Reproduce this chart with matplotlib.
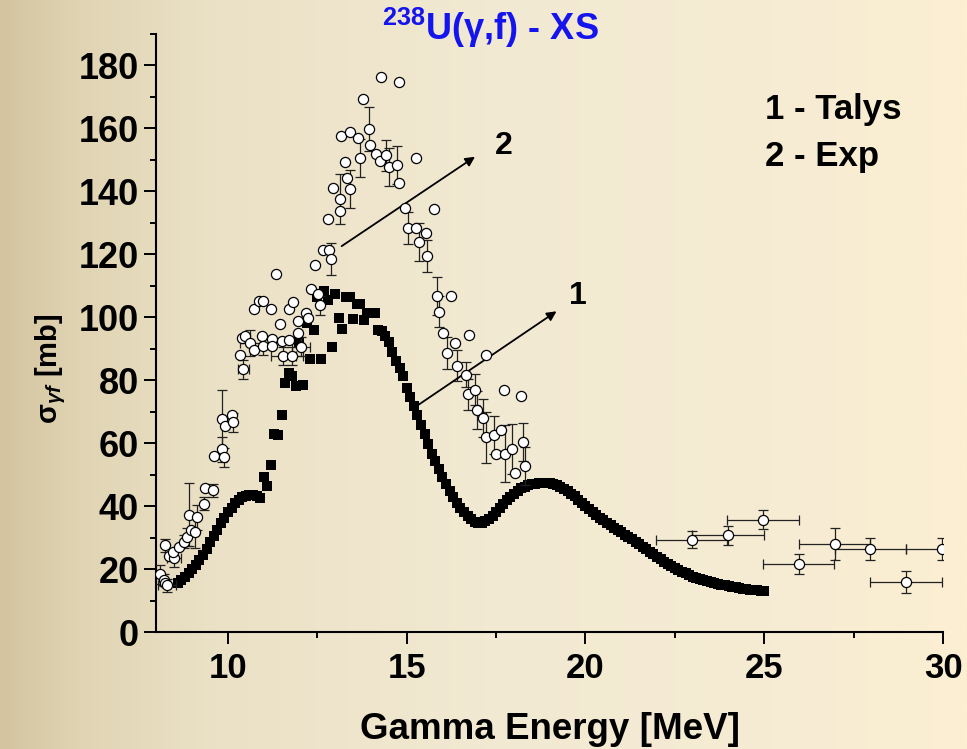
import numpy as np
import matplotlib
matplotlib.use("Agg")
import matplotlib.pyplot as plt
from matplotlib.colors import LinearSegmentedColormap
from matplotlib.ticker import MultipleLocator

plt.rcParams["font.family"] = ["Liberation Sans", "DejaVu Sans"]
plt.rcParams["font.weight"] = "bold"
plt.rcParams["mathtext.fontset"] = "custom"
plt.rcParams["mathtext.rm"] = "Liberation Sans:bold"
plt.rcParams["mathtext.bf"] = "Liberation Sans:bold"
plt.rcParams["mathtext.it"] = "Liberation Sans:bold:italic"

# Talys calculation, 0.1 MeV grid from 8.6 to 25.0 MeV
talys_e = np.arange(86, 251) / 10.0
talys_xs = [
    15.5, 16.5, 17.5, 18.8, 20.0, 21.3, 22.8, 24.5, 26.5, 28.5,
    30.5, 32.5, 34.5, 36.3, 38.0, 39.5, 41.0, 42.0, 42.8, 43.3,
    43.5, 43.5, 43.2, 42.5, 49.2, 46.5, 53.0, 63.0, 62.5, 69.0,
    79.2, 82.3, 81.2, 78.3, 92.0, 78.4, 98.2, 86.8, 95.8, 106.5,
    86.8, 108.5, 105.4, 90.6, 107.3, 99.8, 96.2, 106.5, 106.4, 99.4,
    104.3, 104.3, 99.2, 101.5, 101.5, 101.4, 95.8, 95.5, 94.2, 92.0,
    89.0, 86.2, 84.0, 81.3, 77.5, 74.6, 71.8, 68.8, 65.8, 62.8,
    59.6, 56.6, 54.3, 51.7, 49.2, 46.9, 44.7, 42.8, 41.0, 39.4,
    38.0, 36.8, 35.8, 35.1, 34.7, 34.7, 35.2, 36.0, 37.0, 38.1,
    39.3, 40.6, 41.9, 43.0, 44.0, 44.9, 45.6, 46.2, 46.6, 46.9,
    47.1, 47.2, 47.3, 47.3, 47.2, 47.0, 46.6, 46.1, 45.5, 44.8,
    44.0, 43.1, 42.1, 41.1, 40.0, 39.1, 38.2, 37.2, 36.3, 35.5,
    34.7, 34.0, 33.2, 32.4, 31.7, 30.9, 30.2, 29.5, 28.7, 27.9,
    27.1, 26.3, 25.5, 24.7, 23.9, 23.2, 22.4, 21.7, 21.0, 20.4,
    19.7, 19.1, 18.6, 18.1, 17.6, 17.2, 16.8, 16.5, 16.2, 15.9,
    15.6, 15.3, 15.0, 14.8, 14.6, 14.4, 14.2, 14.0, 13.8, 13.6,
    13.5, 13.3, 13.2, 13.1, 13.0,
]

# experimental points (energy, xs, yerr, xerr)
exp_e = [8.10, 8.20, 8.25, 8.30, 8.23, 8.36, 8.50, 8.45, 8.62, 8.78,
         8.86, 8.92, 8.98, 9.07, 9.12, 9.32, 9.36, 9.58, 9.60, 9.84,
         9.88, 9.84, 9.93, 10.10, 10.13, 10.34, 10.38, 10.43, 10.48, 10.63,
         10.72, 10.86, 10.97, 10.72, 10.95, 10.98, 11.22, 11.24, 11.20, 11.33,
         11.45, 11.50, 11.54, 11.72, 11.70, 11.83, 11.79, 11.97, 11.95, 12.05,
         12.19, 12.24, 12.32, 12.44, 12.53, 12.58, 12.79, 12.67, 12.82, 12.87,
         12.93, 13.12, 13.13, 13.17, 13.27, 13.34, 13.42, 13.40, 13.65, 13.70,
         13.79, 13.94, 13.96, 14.13, 14.25, 14.29, 14.42, 14.51, 14.73, 14.77,
         14.78, 14.94, 15.03, 15.25, 15.25, 15.34, 15.54, 15.58, 15.75, 15.85,
         15.89, 16.02, 16.14, 16.23, 16.35, 16.40, 16.66, 16.71, 16.75, 16.92,
         16.97, 17.14, 17.23, 17.21, 17.44, 17.49, 17.64, 17.73, 17.75, 17.95,
         18.04, 18.21, 18.26, 18.30]
exp_xs = [18.3, 16.5, 15.5, 14.8, 27.5, 24.2, 23.5, 25.5, 26.9, 28.7,
          30.2, 37.3, 32.4, 31.8, 36.5, 40.8, 45.8, 45.0, 56.0, 58.0,
          55.5, 67.8, 65.5, 68.9, 66.6, 88.0, 93.4, 83.5, 94.0, 91.8,
          102.5, 105.3, 105.3, 89.6, 94.2, 91.0, 93.1, 90.8, 102.5, 113.6,
          98.0, 92.4, 87.7, 92.7, 102.5, 104.8, 87.7, 94.9, 98.7, 90.7,
          101.3, 99.8, 108.9, 116.5, 107.4, 103.8, 131.1, 121.5, 121.5, 118.5,
          141.0, 133.7, 137.5, 157.5, 149.2, 144.3, 140.8, 159.0, 156.9, 150.7,
          169.4, 159.8, 154.6, 151.9, 149.6, 176.2, 151.4, 147.7, 148.4, 142.8,
          174.7, 134.7, 128.4, 128.4, 150.7, 123.8, 126.8, 119.5, 134.4, 106.8,
          101.8, 94.9, 88.6, 106.8, 91.9, 84.6, 81.7, 75.5, 94.5, 77.0,
          70.6, 67.9, 88.1, 61.8, 62.7, 56.7, 64.3, 77.0, 56.7, 58.2,
          50.6, 74.9, 60.3, 52.7]
exp_yerr = [3, 2, 0, 2, 2, 0, 3, 0, 0, 2,
            3, 10, 0, 5, 4, 2, 0, 2, 0, 4,
            3, 9, 0, 0, 3, 0, 0, 3, 0, 4,
            0, 0, 0, 0, 0, 3, 0, 0, 0, 0,
            0, 0, 3, 0, 0, 0, 3, 0, 0, 3,
            0, 0, 0, 0, 0, 3, 0, 0, 0, 5,
            0, 0, 8, 0, 0, 0, 6, 0, 0, 6,
            0, 7, 0, 0, 0, 0, 5, 6, 6, 0,
            0, 0, 5, 0, 0, 6, 0, 5, 0, 6,
            5, 0, 5, 0, 0, 5, 4, 5, 0, 5,
            6, 6, 0, 8, 6, 0, 0, 0, 9, 8,
            0, 0, 6, 6]
exp_xerr = [0, 0, 0, 0.25, 0, 0, 0.2, 0, 0, 0,
            0, 0, 0, 0, 0, 0, 0, 0, 0, 0,
            0, 0, 0, 0, 0, 0, 0, 0.15, 0, 0.3,
            0, 0, 0, 0, 0, 0.3, 0, 0, 0, 0,
            0, 0, 0.35, 0, 0, 0, 0.3, 0, 0, 0.25,
            0, 0, 0, 0, 0, 0, 0, 0, 0, 0,
            0, 0, 0, 0, 0, 0, 0, 0, 0, 0,
            0, 0, 0, 0, 0, 0, 0, 0, 0, 0,
            0, 0, 0, 0, 0, 0, 0, 0, 0, 0,
            0, 0, 0, 0, 0, 0, 0, 0, 0, 0,
            0, 0, 0, 0, 0, 0, 0, 0, 0, 0,
            0, 0, 0, 0]

# high energy points with 1 MeV bins
hi_e = [22.97, 23.98, 24.97, 25.96, 26.97, 27.97, 28.97, 29.97]
hi_xs = [29.3, 30.7, 35.7, 21.6, 27.9, 26.3, 16.0, 26.3]
hi_yerr = [2.7, 3.0, 3.0, 3.3, 5.0, 3.5, 3.5, 3.5]
hi_xerr = [1.0, 1.0, 1.0, 1.0, 1.0, 1.0, 1.0, 1.0]

fig = plt.figure(figsize=(9.67, 7.49), dpi=100)

# background gradient, dark tan on the left to cream on the right
bg = fig.add_axes([0, 0, 1, 1], zorder=-10)
cmap = LinearSegmentedColormap.from_list("bg", [
    (0.0, "#d4c5a0"), (0.08, "#e0d4b3"), (0.22, "#ebe1c6"),
    (0.5, "#f2e9d2"), (0.8, "#f6ecd4"), (1.0, "#fcefd2")])
bg.imshow(np.linspace(0, 1, 400)[None, :], aspect="auto", cmap=cmap,
          extent=(0, 1, 0, 1))
bg.set_axis_off()

ax = fig.add_axes([0.1618, 0.1562, 0.8134, 0.7984])
ax.patch.set_alpha(0)

ax.plot(talys_e, talys_xs, ls="none", marker="s", ms=6.8, color="black",
        mec="black", mew=0, zorder=2)

e = np.array(exp_e)
s = np.array(exp_xs)
ye = np.array(exp_yerr, dtype=float)
xe = np.array(exp_xerr, dtype=float)
m = (ye > 0) | (xe > 0)
ax.errorbar(e[m], s[m], yerr=ye[m], xerr=xe[m], fmt="none", ecolor="#222222",
            elinewidth=0.9, capsize=3.5, capthick=0.9, zorder=3)
ax.errorbar(hi_e, hi_xs, yerr=hi_yerr, xerr=hi_xerr, fmt="none",
            ecolor="#222222", elinewidth=0.9, capsize=3.5, capthick=0.9,
            zorder=3)
ax.plot(np.concatenate([e, hi_e]), np.concatenate([s, hi_xs]), ls="none",
        marker="o", ms=7.3, mfc="white", mec="black", mew=0.9, zorder=4)

ax.set_xlim(8, 30)
ax.set_ylim(0, 190)
ax.xaxis.set_major_locator(MultipleLocator(5))
ax.xaxis.set_minor_locator(MultipleLocator(2.5))
ax.yaxis.set_major_locator(MultipleLocator(20))
ax.yaxis.set_minor_locator(MultipleLocator(10))
ax.set_yticks(np.arange(0, 181, 20))
for side in ("top", "right"):
    ax.spines[side].set_visible(False)
for side in ("left", "bottom"):
    ax.spines[side].set_linewidth(1.5)
ax.tick_params(which="major", direction="out", length=8.5, width=1.4)
ax.tick_params(which="minor", direction="out", length=4.3, width=1.4)
ax.tick_params(axis="y", which="major", labelsize=26, pad=4)
ax.tick_params(axis="x", which="major", labelsize=25, pad=6)
for lab in ax.get_xticklabels() + ax.get_yticklabels():
    lab.set_weight("bold")

ax.set_xlabel("Gamma Energy [MeV]", fontsize=26.5, fontweight="bold")
ax.xaxis.set_label_coords(0.5, -0.134)
ax.set_ylabel(r"$\mathrm{\sigma}_{\gamma f}$ [mb]", fontsize=21,
              fontweight="bold")
ax.yaxis.set_label_coords(-0.112, 0.44)

fig.text(490 / 967, 1 - 28 / 749, r"$^{238}$U(γ,f) - XS", color="#1414ee",
         fontsize=26, fontweight="bold", ha="center", va="center")

arrow = dict(arrowstyle="-|>", lw=1.3, color="black", mutation_scale=14,
             shrinkA=0, shrinkB=0)
ax.annotate("", xy=(16.91, 151.0), xytext=(13.18, 122.6), arrowprops=arrow)
ax.annotate("", xy=(19.19, 101.9), xytext=(15.33, 72.2), arrowprops=arrow)
ax.text(17.7, 154.4, "2", fontsize=23, fontweight="bold", ha="center",
        va="center")
ax.text(19.8, 106.7, "1", fontsize=23, fontweight="bold", ha="center",
        va="center")
ax.text(25.02, 166, "1 - Talys", fontsize=25, fontweight="bold",
        ha="left", va="center")
ax.text(25.02, 151, "2 - Exp", fontsize=25, fontweight="bold",
        ha="left", va="center")

fig.savefig("out.png", dpi=100)
